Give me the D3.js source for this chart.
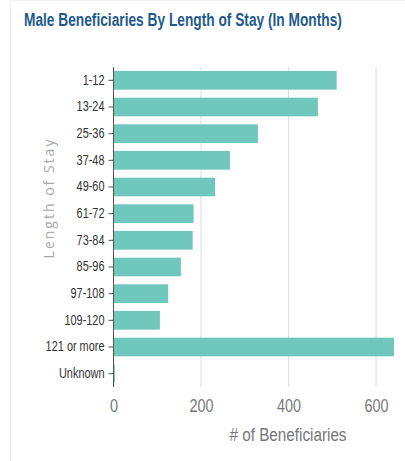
<!DOCTYPE html>
<html><head><meta charset="utf-8">
<script src="https://cdn.jsdelivr.net/npm/d3@7"></script>
<style>body{margin:0;background:#fff}svg{display:block}</style>
</head><body>
<svg id="c" width="405" height="461"></svg>
<script>
const categories = ["1-12","13-24","25-36","37-48","49-60","61-72","73-84","85-96","97-108","109-120","121 or more","Unknown"];
const values = [510, 467, 330, 266, 232, 183, 181, 154, 125, 106, 641, 3];
const xTicks = [0, 200, 400, 600];
const title = "Male Beneficiaries By Length of Stay (In Months)";
const xTitle = "# of Beneficiaries";
const yTitle = "Length of Stay";

const svg = d3.select("#c");
const font = "'Liberation Sans', Arial, sans-serif";

function squeeze(sel, f) {
  sel.each(function() {
    const w = this.getComputedTextLength();
    d3.select(this).attr("textLength", w * f).attr("lengthAdjust", "spacingAndGlyphs");
  });
}

// frame
svg.append("line").attr("x1",10.5).attr("x2",10.5).attr("y1",0).attr("y2",461).attr("stroke","#ececec");
svg.append("line").attr("x1",10).attr("x2",405).attr("y1",0.5).attr("y2",0.5).attr("stroke","#f0f0f0");

// title: horizontally condensed via transform
const tg = svg.append("g");
const t = tg.append("text").attr("x",0).attr("y",0).text(title)
  .attr("font-family",font).attr("font-weight","bold").attr("font-size",14).attr("fill","#1f5a8c");
const tw = t.node().getComputedTextLength();
tg.attr("transform", `translate(24,26) scale(${318/tw},${18/14})`);

const x = d3.scaleLinear().domain([0, d3.max(values)]).range([113.5, 394]);
const y = d3.scaleBand().domain(categories).range([67, 387]).paddingInner(0.3).paddingOuter(0.15);

// grid
svg.append("g").selectAll("line").data(xTicks.filter(d=>d>0)).join("line")
  .attr("x1",d=>x(d)).attr("x2",d=>x(d)).attr("y1",67).attr("y2",387)
  .attr("stroke","#dcdcdc").attr("stroke-width",1);

// bars
svg.append("g").selectAll("rect").data(categories).join("rect")
  .attr("x", x(0)).attr("y", d=>y(d))
  .attr("width", (d,i)=>x(values[i]) - x(0)).attr("height", y.bandwidth())
  .attr("fill","#70c7bc");

// y axis
const ya = svg.append("g").attr("transform",`translate(${x(0)},0)`)
  .call(d3.axisLeft(y).tickSize(5).tickPadding(4).tickSizeOuter(0));
ya.select(".domain").attr("stroke","#555").attr("d","M0,67V387");
ya.selectAll(".tick line").attr("stroke","#555");
ya.selectAll("text").attr("font-family",font).attr("font-size",14).attr("fill","#333").call(squeeze, 0.78);

// x axis
const xa = svg.append("g").attr("transform","translate(0,387)")
  .call(d3.axisBottom(x).tickValues(xTicks).tickSize(0).tickPadding(12));
xa.select(".domain").remove();
xa.selectAll("text").attr("font-family",font).attr("font-size",18).attr("fill","#777").call(squeeze, 0.8);

svg.append("text").attr("x",288).attr("y",441).attr("text-anchor","middle").text(xTitle)
  .attr("font-family",font).attr("font-size",18).attr("fill","#777")
  .attr("textLength",117).attr("lengthAdjust","spacingAndGlyphs");

svg.append("text").attr("transform","translate(54,198) rotate(-90)").attr("text-anchor","middle")
  .text(yTitle).attr("font-family","'Open Sans', sans-serif").attr("font-size",14)
  .attr("letter-spacing",2).attr("fill","#aaa");
</script>
</body></html>
